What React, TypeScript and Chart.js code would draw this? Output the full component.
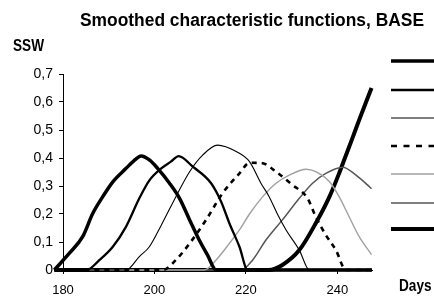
import React, { useEffect, useRef } from "react";
import { Chart, registerables } from "chart.js";

Chart.register(...registerables);

const titleText = "Smoothed characteristic functions, BASE";
const yAxisTitle = "SSW";
const xAxisTitle = "Days";
const xTicks = [180, 200, 220, 240];
const yTicks = [0, 0.1, 0.2, 0.3, 0.4, 0.5, 0.6, 0.7];
const seriesNames = ["Function 1", "Function 2", "Function 3", "Function 4", "Function 5", "Function 6", "Function 7"];

const s1Days = [178.1, 181.4, 184.3, 186.5, 188.7, 190.9, 193.8, 195.5, 197.1, 198.9, 200.7, 203.3, 205.5, 207.7, 209.8, 211.6, 213.5, 247.6];
const s1Vals = [0, 0.06, 0.119, 0.202, 0.262, 0.315, 0.363, 0.39, 0.407, 0.393, 0.363, 0.31, 0.256, 0.179, 0.107, 0.054, 0, 0];

const s2Days = [178.1, 185.1, 188, 190.9, 193.8, 196.7, 198.9, 201.5, 203.6, 205.3, 208.4, 212.4, 214.6, 216.4, 218.6, 220.4, 247.6];
const s2Vals = [0, 0, 0.036, 0.083, 0.155, 0.256, 0.32, 0.363, 0.387, 0.407, 0.369, 0.31, 0.244, 0.167, 0.083, 0, 0];

const s3Days = [178.1, 193.8, 196.7, 198.9, 201.5, 204.7, 207.7, 210.6, 213.8, 217.9, 220.8, 223.3, 225.1, 226.9, 228.8, 231.7, 233.9, 247.6];
const s3Vals = [0, 0, 0.048, 0.083, 0.16, 0.262, 0.351, 0.411, 0.446, 0.423, 0.387, 0.31, 0.262, 0.2, 0.143, 0.071, 0, 0];

const s4Days = [178.1, 201.8, 204.7, 207.7, 211.3, 214.9, 218.6, 220.8, 223.7, 226.6, 230.2, 233.5, 235.3, 237.5, 239.7, 241.9, 247.6];
const s4Vals = [0, 0, 0.036, 0.095, 0.179, 0.274, 0.345, 0.383, 0.381, 0.351, 0.304, 0.256, 0.19, 0.125, 0.071, 0, 0];

const s5Days = [178.1, 210.9, 213.5, 216.4, 218.6, 220.8, 223.7, 226.6, 229.5, 233.2, 235.3, 238.3, 240.4, 242.6, 244.8, 247.5];
const s5Vals = [0, 0, 0.036, 0.095, 0.143, 0.2, 0.262, 0.31, 0.339, 0.36, 0.351, 0.315, 0.262, 0.19, 0.119, 0.055];

const s6Days = [178.1, 219, 221.5, 224.4, 228, 231.7, 234.6, 237.5, 241.2, 244.1, 246.6, 247.5];
const s6Vals = [0, 0, 0.036, 0.107, 0.179, 0.256, 0.31, 0.345, 0.367, 0.339, 0.304, 0.29];

const s7Days = [178.1, 225, 228, 231.7, 235.3, 238.3, 240.4, 241.9, 243.3, 244.8, 247.5];
const s7Vals = [0, 0, 0.018, 0.071, 0.167, 0.262, 0.345, 0.41, 0.47, 0.536, 0.65];

const allDays = [s1Days, s2Days, s3Days, s4Days, s5Days, s6Days, s7Days];
const allVals = [s1Vals, s2Vals, s3Vals, s4Vals, s5Vals, s6Vals, s7Vals];

const styles = [
  { color: "#000000", width: 3.5, dash: [] as number[] },
  { color: "#000000", width: 2.3, dash: [] as number[] },
  { color: "#000000", width: 1.1, dash: [] as number[] },
  { color: "#000000", width: 2.6, dash: [5, 5] },
  { color: "#a0a0a0", width: 1.4, dash: [] as number[] },
  { color: "#555555", width: 1.5, dash: [] as number[] },
  { color: "#000000", width: 4, dash: [] as number[] },
];

const legendYs = [61, 90, 118, 146, 174, 203, 229];

function stretchedText(ctx: any, text: string, x: number, y: number, k: number) {
  ctx.save();
  ctx.translate(x, y);
  ctx.scale(1, k);
  ctx.fillText(text, 0, 0);
  ctx.restore();
}

const textPlugin = {
  id: "customText",
  afterDraw(chart: any) {
    const ctx = chart.ctx;
    ctx.save();
    ctx.fillStyle = "#000";
    ctx.textBaseline = "alphabetic";
    ctx.font = "bold 17.4px 'Liberation Sans', Arial, sans-serif";
    ctx.textAlign = "center";
    stretchedText(ctx, titleText, 252, 26, 1.1);
    ctx.textAlign = "left";
    ctx.font = "bold 13.6px 'Liberation Sans', Arial, sans-serif";
    stretchedText(ctx, yAxisTitle, 13, 51, 1.25);
    stretchedText(ctx, xAxisTitle, 399, 291, 1.25);
    // legend samples
    styles.forEach((s, i) => {
      ctx.beginPath();
      ctx.strokeStyle = s.color;
      ctx.lineWidth = s.width;
      ctx.setLineDash(s.dash.length ? [6, 6.5] : []);
      ctx.moveTo(391, legendYs[i]);
      ctx.lineTo(440, legendYs[i]);
      ctx.stroke();
    });
    ctx.restore();
  },
};

export default function App() {
  const ref = useRef<HTMLCanvasElement | null>(null);
  useEffect(() => {
    if (!ref.current) return;
    const datasets = allDays.map((days, i) => ({
      label: seriesNames[i],
      data: days.map((d, j) => ({ x: d, y: allVals[i][j] })),
      borderColor: styles[i].color,
      borderWidth: styles[i].width,
      borderDash: styles[i].dash,
      pointRadius: 0,
      fill: false,
      cubicInterpolationMode: "monotone" as const,
      clip: false as any,
    }));
    const chart = new Chart(ref.current, {
      type: "line",
      data: { datasets },
      plugins: [textPlugin],
      options: {
        animation: false,
        responsive: false,
        maintainAspectRatio: false,
        layout: { padding: { top: 74, right: 62, left: 0, bottom: 0 } },
        plugins: { legend: { display: false }, title: { display: false }, tooltip: { enabled: false } },
        scales: {
          x: {
            type: "linear",
            min: 180,
            max: 247.6,
            afterBuildTicks: (s: any) => { s.ticks = xTicks.map((v) => ({ value: v })); },
            afterFit: (s: any) => { s.height = 34; },
            grid: { display: true, drawOnChartArea: false, drawTicks: true, tickLength: 4, color: "#000", lineWidth: 1 },
            border: { display: true, color: "#000", width: 1 },
            ticks: {
              color: "#000",
              padding: 9,
              maxRotation: 0,
              font: { family: "'Liberation Sans', Arial, sans-serif", size: 13 },
              callback: (v: any) => String(v),
            },
          },
          y: {
            type: "linear",
            min: 0,
            max: 0.7,
            afterBuildTicks: (s: any) => { s.ticks = yTicks.map((v) => ({ value: v })); },
            afterFit: (s: any) => { s.width = 63; },
            grid: { display: true, drawOnChartArea: false, drawTicks: true, tickLength: 4, color: "#000", lineWidth: 1 },
            border: { display: true, color: "#000", width: 1 },
            ticks: {
              color: "#000",
              padding: 6,
              font: { family: "'Liberation Sans', Arial, sans-serif", size: 14 },
              callback: (v: any) => (Number(v) === 0 ? "0" : Number(v).toFixed(1).replace(".", ",")),
            },
          },
        },
      },
    });
    return () => chart.destroy();
  }, []);
  return (
    <div style={{ position: "fixed", left: 0, top: 0, width: 434, height: 304, background: "#fff" }}>
      <canvas ref={ref} width={434} height={304} style={{ width: 434, height: 304, display: "block" }} />
    </div>
  );
}
